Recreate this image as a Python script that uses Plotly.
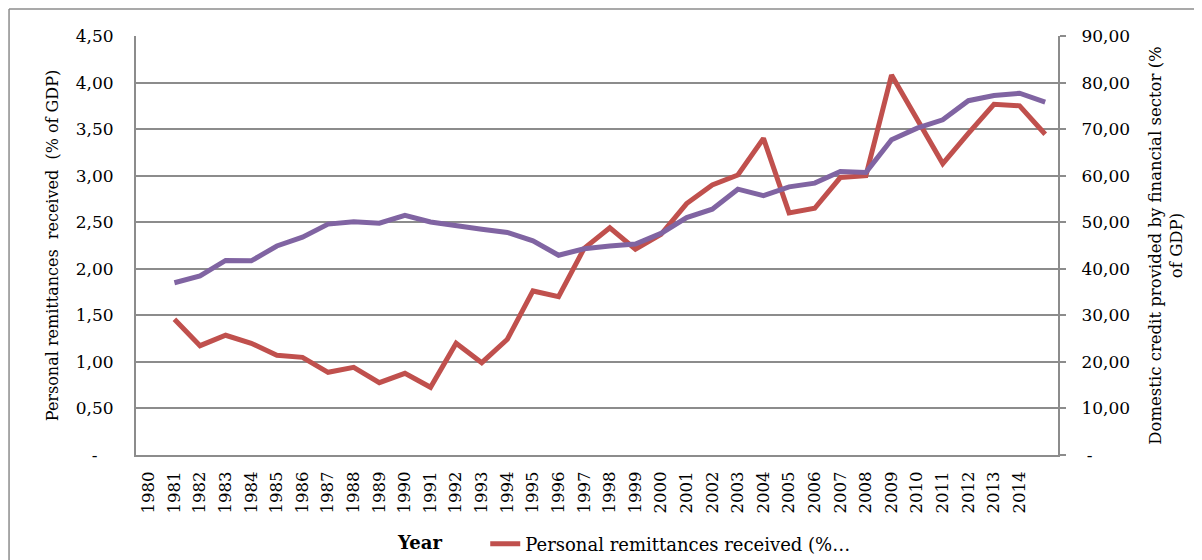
import plotly.graph_objects as go

# ---- data ----
year_labels = [str(y) for y in range(1980, 2015)]
remittances = [1.457, 1.174, 1.286, 1.20, 1.071, 1.049, 0.888, 0.942, 0.777, 0.877,
               0.727, 1.20, 0.992, 1.243, 1.762, 1.70, 2.22, 2.44, 2.21, 2.37,
               2.70, 2.90, 3.007, 3.40, 2.60, 2.65, 2.98, 3.00, 4.08, 3.60,
               3.13, 3.455, 3.767, 3.75, 3.445]
credit = [37.0, 38.45, 41.8, 41.7, 44.9, 46.8, 49.6, 50.1, 49.8, 51.5,
          50.05, 49.4, 48.5, 47.8, 46.0, 42.9, 44.3, 44.9, 45.3, 47.6,
          51.0, 52.8, 57.1, 55.7, 57.6, 58.4, 60.9, 60.7, 67.7, 70.2,
          72.0, 76.1, 77.2, 77.7, 75.8]
left_ticks = [0, 0.5, 1.0, 1.5, 2.0, 2.5, 3.0, 3.5, 4.0, 4.5]
left_ticktext = ["-\u00a0\u00a0\u00a0", "0,50", "1,00", "1,50", "2,00", "2,50", "3,00", "3,50", "4,00", "4,50"]
right_ticks = [0, 10, 20, 30, 40, 50, 60, 70, 80, 90]
right_ticktext = ["\u00a0-", "10,00", "20,00", "30,00", "40,00", "50,00", "60,00", "70,00", "80,00", "90,00"]

# category positions: labels occupy 0..34, data series occupy 1..35 (one trailing unlabeled slot)
label_pos = list(range(len(year_labels)))
data_pos = list(range(1, len(remittances) + 1))

FONT = "DejaVu Serif"
GRID = "#8c8c8c"
RED = "#C0504D"
PURPLE = "#8064A2"
NB = "\u00a0"

fig = go.Figure()
fig.add_trace(go.Scatter(
    x=data_pos, y=remittances, mode="lines",
    name="Personal remittances received (%\u2026",
    line=dict(color=RED, width=5), yaxis="y"))
fig.add_trace(go.Scatter(
    x=data_pos, y=credit, mode="lines",
    name="Domestic credit provided by financial sector (% of GDP)",
    line=dict(color=PURPLE, width=5), yaxis="y2", showlegend=False))

fig.update_layout(
    width=1194, height=570,
    margin=dict(l=128, r=144, t=28, b=123),
    paper_bgcolor="white", plot_bgcolor="white",
    font=dict(family=FONT, size=17, color="#000000"),
    xaxis=dict(
        range=[-0.5, len(year_labels) + 0.5],
        tickmode="array", tickvals=label_pos, ticktext=year_labels,
        tickangle=-90, showgrid=False, zeroline=False,
        showline=True, linecolor=GRID, linewidth=2,
        ticks="", ticklabelstandoff=8, automargin=False,
        tickfont=dict(family=FONT, size=16.5),
    ),
    yaxis=dict(
        range=[0, 4.5], tickmode="array", tickvals=left_ticks, ticktext=left_ticktext,
        showgrid=True, gridcolor=GRID, gridwidth=1.5, zeroline=False,
        showline=True, linecolor=GRID, linewidth=2, ticks="",
        ticklabelstandoff=17, automargin=False,
        tickfont=dict(family=FONT, size=17),
        title=dict(text=NB * 14 + "Personal remittances  received  (% of GDP)", standoff=13,
                   font=dict(family=FONT, size=16)),
    ),
    yaxis2=dict(
        range=[0, 90], tickmode="array", tickvals=right_ticks, ticktext=right_ticktext,
        overlaying="y", side="right", showgrid=False, zeroline=False,
        showline=True, linecolor=GRID, linewidth=2,
        ticks="outside", ticklen=6, tickcolor=GRID, tickwidth=1.5,
        ticklabelstandoff=12, automargin=False,
        tickfont=dict(family=FONT, size=17),
        title=dict(text="Domestic credit provided by financial sector (%<br>of GDP)", standoff=20,
                   font=dict(family=FONT, size=16.5)),
    ),
    showlegend=True,
    legend=dict(
        orientation="h", x=0.282, xanchor="left", y=-0.2124, yanchor="middle",
        title=dict(text="<b>Year</b>" + NB * 6, side="left", font=dict(family=FONT, size=18)),
        font=dict(family=FONT, size=18), bgcolor="rgba(0,0,0,0)",
    ),
    shapes=[
        dict(type="line", xref="paper", yref="paper", x0=-0.1377, x1=1.3, y0=1.0644, y1=1.0644,
             line=dict(color=GRID, width=1.5)),
        dict(type="line", xref="paper", yref="paper", x0=-0.1377, x1=-0.1377, y0=1.0644, y1=-0.4,
             line=dict(color=GRID, width=1.5)),
    ],
)

fig.write_html("out.html")
